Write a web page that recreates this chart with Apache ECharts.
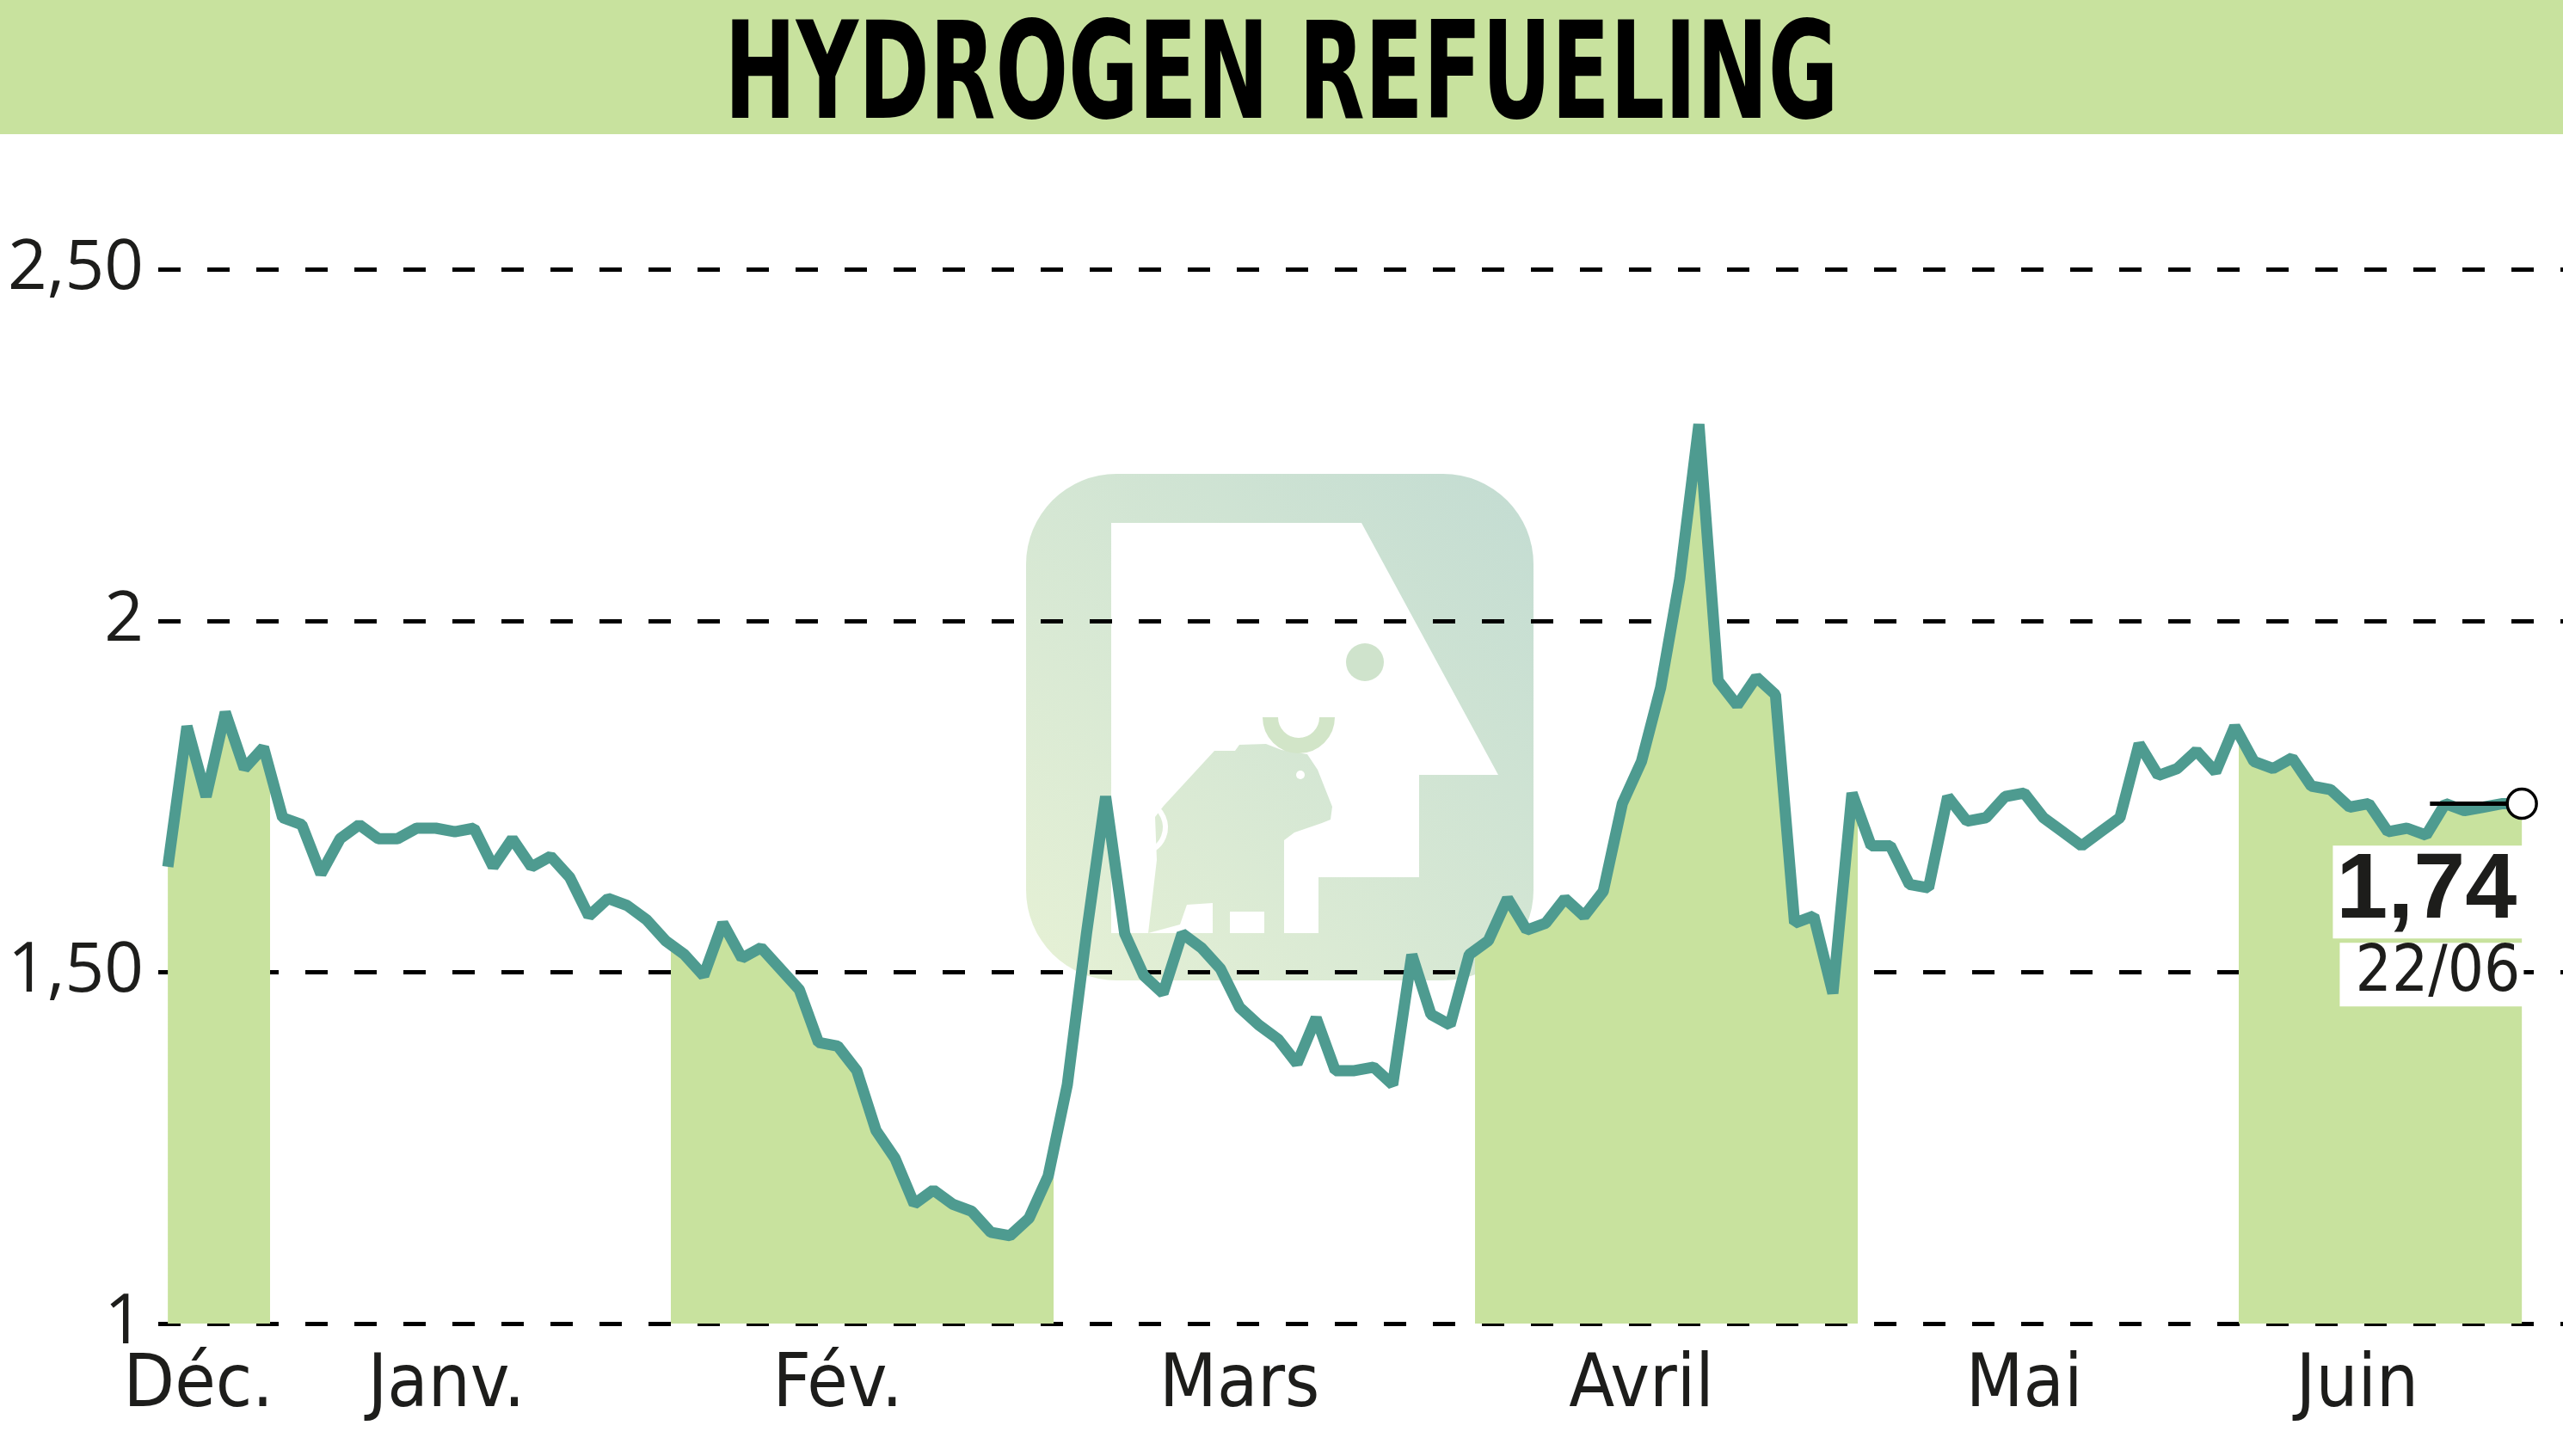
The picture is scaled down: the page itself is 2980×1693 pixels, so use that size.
<!DOCTYPE html>
<html>
<head>
<meta charset="utf-8">
<title>HYDROGEN REFUELING</title>
<script src="https://cdn.jsdelivr.net/npm/echarts@6/dist/echarts.min.js"></script>
<style>
  html, body { margin: 0; padding: 0; background: #fff; }
  #main { width: 2980px; height: 1693px; }
</style>
</head>
<body>
<div id="main"></div>
<script>
// daily closes, one per trading day (index 0 = first day shown in Dec.)
var prices = [
  1.65, 1.85, 1.75, 1.87, 1.79, 1.82, 1.72, 1.71, 1.64, 1.69,
  1.71, 1.69, 1.69, 1.705, 1.705, 1.70, 1.705, 1.65, 1.69, 1.65,
  1.665, 1.635, 1.58, 1.605, 1.595, 1.575, 1.545, 1.525, 1.495, 1.57,
  1.52, 1.535, 1.505, 1.475, 1.40, 1.395, 1.36, 1.275, 1.235, 1.17,
  1.19, 1.17, 1.16, 1.13, 1.125, 1.15, 1.21, 1.34, 1.555, 1.75,
  1.555, 1.495, 1.47, 1.555, 1.535, 1.505, 1.45, 1.425, 1.405, 1.37,
  1.435, 1.36, 1.36, 1.365, 1.34, 1.525, 1.44, 1.425, 1.525, 1.545,
  1.605, 1.56, 1.57, 1.605, 1.58, 1.615, 1.74, 1.80, 1.905, 2.06,
  2.28, 1.915, 1.88, 1.92, 1.895, 1.57, 1.58, 1.47, 1.755, 1.68,
  1.68, 1.625, 1.62, 1.75, 1.715, 1.72, 1.75, 1.755, 1.72, 1.70,
  1.68, 1.70, 1.72, 1.825, 1.78, 1.79, 1.815, 1.785, 1.85, 1.80,
  1.79, 1.805, 1.765, 1.76, 1.735, 1.74, 1.70, 1.705, 1.695, 1.74,
  1.73, 1.735, 1.74, 1.74
];

var monthNames = ['Déc.', 'Janv.', 'Fév.', 'Mars', 'Avril', 'Mai', 'Juin'];
// where each month name sits, in trading-day index units
var monthLabelPos = [1.6, 14.55, 35.0, 56.0, 77.0, 97.0, 114.4];
// shaded months (Déc., Fév., Avril, Juin), in trading-day index units
var shadedMonths = [[-0.5, 5.33], [26.3, 46.3], [68.3, 88.3], [108.2, 124]];

var yTicks = [1, 1.5, 2, 2.5];
var yTickLabels = ['1', '1,50', '2', '2,50'];
var lastDate = '22/06';
var titleText = 'HYDROGEN REFUELING';

var lineColor = '#4e9b90';
var fillColor = '#c8e29e';
var condensed = "'DejaVu Sans Condensed', 'DejaVu Sans', sans-serif";

var seriesData = prices.map(function (v, i) { return [i, v]; });
var lastIdx = prices.length - 1;
var lastVal = prices[lastIdx];

function frNum(v) {
  return v.toFixed(2).replace('.', ',');
}

// visualMap pieces: green inside shaded months, transparent elsewhere
var pieces = [];
var cur = -10;
shadedMonths.forEach(function (b) {
  pieces.push({ gte: cur, lt: b[0], color: 'rgba(255,255,255,0)' });
  pieces.push({ gte: b[0], lt: b[1], color: fillColor });
  cur = b[1];
});
pieces.push({ gte: cur, lt: 1000, color: 'rgba(255,255,255,0)' });

var logoGrad = new echarts.graphic.LinearGradient(1193, 1140, 1783, 551, [
  { offset: 0, color: '#e6f1d5' },
  { offset: 1, color: '#c3dcd2' }
], true);

var myChart = echarts.init(document.getElementById('main'));
var option = {
  animation: false,
  backgroundColor: '#fff',
  graphic: [
    { type: 'rect', z: -2, shape: { x: 0, y: 0, width: 2980, height: 156 }, style: { fill: fillColor } },
    {
      type: 'text', z: 10, x: 1490, y: 96, scaleX: 0.71,
      style: {
        text: titleText, fill: '#000', align: 'center', verticalAlign: 'middle',
        fontFamily: condensed, fontWeight: 'bold', fontSize: 156
      }
    },
    // faded logo behind the plot
    { type: 'rect', z: -2, shape: { x: 1193, y: 551, width: 590, height: 589, r: 105 }, style: { fill: logoGrad } },
    { type: 'polygon', z: -2, shape: { points: [[1292, 608], [1583, 608], [1742, 901], [1650, 901], [1650, 1020], [1533, 1020], [1533, 1085], [1292, 1085]] }, style: { fill: '#fff' } },
    { type: 'polygon', z: -2, shape: { points: [[1343, 950], [1353, 937], [1412, 873], [1436, 873], [1441, 866], [1472, 865], [1490, 872], [1520, 877], [1532, 895], [1549, 938], [1547, 953], [1537, 957], [1505, 968], [1493, 977], [1493, 1085], [1470, 1085], [1470, 1060], [1430, 1060], [1430, 1085], [1410, 1085], [1410, 1050], [1380, 1052], [1372, 1075], [1335, 1085], [1345, 1000]] }, style: { fill: logoGrad } },
    { type: 'arc', z: -2, shape: { cx: 1510, cy: 834, r: 33, startAngle: 0, endAngle: Math.PI, clockwise: true }, style: { stroke: '#d2e5c8', lineWidth: 18, fill: null } },
    { type: 'circle', z: -2, shape: { cx: 1512, cy: 901, r: 5 }, style: { fill: '#fff' } },
    { type: 'circle', z: -2, shape: { cx: 1587, cy: 770, r: 22 }, style: { fill: '#cfe3cc' } },
    { type: 'arc', z: -2, shape: { cx: 1325, cy: 962, r: 30, startAngle: -1.2, endAngle: 1.6, clockwise: true }, style: { stroke: '#fff', lineWidth: 6, fill: null } }
  ],
  grid: {
    left: 184,
    right: 0,
    top: 313.5,
    bottom: 154
  },
  xAxis: {
    type: 'value',
    min: -0.5,
    max: 125.15,
    axisLine: { show: false },
    axisTick: { show: false },
    splitLine: { show: false },
    axisLabel: {
      customValues: monthLabelPos,
      margin: 31,
      fontFamily: condensed,
      fontSize: 86,
      color: '#1d1d1b',
      formatter: function (v) {
        var i = monthLabelPos.indexOf(v);
        return i >= 0 ? monthNames[i] : '';
      }
    }
  },
  yAxis: {
    type: 'value',
    min: 1,
    max: 2.5,
    interval: 0.5,
    axisLine: { show: false },
    axisTick: { show: false },
    axisLabel: {
      margin: 17,
      fontFamily: "'Open Sans', 'Liberation Sans', sans-serif",
      fontWeight: 500,
      fontSize: 80,
      color: '#1d1d1b',
      formatter: function (v) {
        var i = yTicks.indexOf(v);
        return i >= 0 ? yTickLabels[i] : '';
      }
    },
    splitLine: {
      lineStyle: { color: '#000', width: 5, type: [26, 31] }
    }
  },
  visualMap: {
    show: false,
    type: 'piecewise',
    seriesIndex: 0,
    dimension: 0,
    pieces: pieces,
    outOfRange: { color: 'rgba(255,255,255,0)' }
  },
  series: [
    {
      name: 'fill',
      type: 'line',
      data: seriesData,
      showSymbol: false,
      silent: true,
      z: 1,
      lineStyle: { width: 0, opacity: 0 },
      areaStyle: { opacity: 1 }
    },
    {
      name: 'cours',
      type: 'line',
      data: seriesData,
      showSymbol: false,
      silent: true,
      z: 3,
      lineStyle: { color: lineColor, width: 13 },
      itemStyle: { color: lineColor },
      markLine: {
        silent: true,
        symbol: ['none', 'none'],
        label: { show: false },
        lineStyle: { color: '#000', width: 5, type: 'solid' },
        data: [[{ coord: [lastIdx - 4.8, lastVal] }, { coord: [lastIdx, lastVal] }]]
      },
      markPoint: {
        silent: true,
        symbol: 'circle',
        symbolSize: 34,
        itemStyle: { color: '#fff', borderColor: '#000', borderWidth: 3.5 },
        label: {
          show: true,
          position: [21, 64],
          align: 'right',
          verticalAlign: 'top',
          formatter: function (p) {
            return '{v|' + frNum(p.value) + '}\n{d|' + lastDate + '}';
          },
          rich: {
            v: {
              fontFamily: "'Liberation Sans', sans-serif",
              fontWeight: 'bold',
              fontSize: 108,
              lineHeight: 115,
              color: '#1d1d1b',
              backgroundColor: '#fff',
              width: 214,
              align: 'right',
              padding: [0, 8, 0, 0]
            },
            d: {
              fontFamily: condensed,
              fontSize: 74,
              lineHeight: 77,
              color: '#1d1d1b',
              backgroundColor: '#fff',
              width: 210,
              align: 'right',
              padding: [0, 4, 0, 0]
            }
          }
        },
        data: [{ coord: [lastIdx, lastVal], value: lastVal }]
      }
    }
  ]
};

myChart.setOption(option);
</script>
</body>
</html>
